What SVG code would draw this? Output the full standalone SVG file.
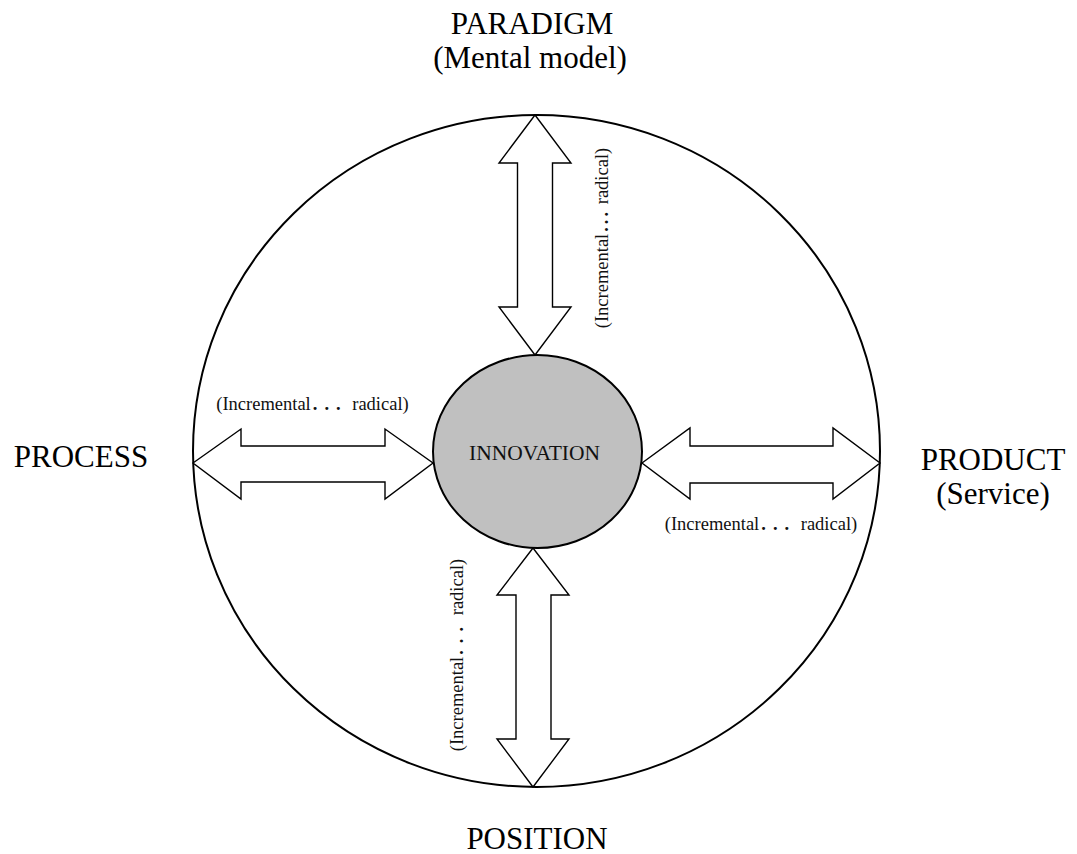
<svg xmlns="http://www.w3.org/2000/svg" width="1077" height="854" viewBox="0 0 1077 854">
  <style>
    .big { font-family: "Liberation Serif", "Times New Roman", serif; font-size: 31px; fill: #000; text-anchor: middle; }
    .core { font-family: "Liberation Serif", "Times New Roman", serif; font-size: 21.5px; fill: #111; text-anchor: middle; }
    .range { font-family: "Liberation Serif", "Times New Roman", serif; font-size: 18.5px; fill: #111; text-anchor: middle; }
    .dots { font-weight: bold; letter-spacing: 7px; }
    .arrow { fill: #fff; stroke: #000; stroke-width: 1.4; stroke-linejoin: miter; }
  </style>

  <rect width="1077" height="854" fill="#fff"/>

  <!-- outer boundary -->
  <g id="boundary">
    <ellipse cx="536.5" cy="451" rx="343.5" ry="336" fill="none" stroke="#000" stroke-width="2"/>
  </g>

  <!-- double-headed block arrows -->
  <g id="connectors">
    <!-- paradigm (top) -->
    <path class="arrow" d="M535,115 L571,163 L552.5,163 L552.5,307 L571,307 L535,355 L499,307 L517.5,307 L517.5,163 L499,163 Z"/>
    <!-- position (bottom) -->
    <path class="arrow" d="M533,548 L569,595 L551,595 L551,739 L569,739 L533,787 L497,739 L516,739 L516,595 L497,595 Z"/>
    <!-- process (left) -->
    <path class="arrow" d="M193,463 L241,429 L241,446 L385,446 L385,429 L433,463 L385,499 L385,482 L241,482 L241,499 Z"/>
    <!-- product (right) -->
    <path class="arrow" d="M642,463 L690,428 L690,446 L833,446 L833,428 L880,463 L833,499 L833,483 L690,483 L690,499 Z"/>
  </g>

  <g id="innovation">
    <ellipse cx="537.5" cy="451.5" rx="104.5" ry="96.5" fill="#c0c0c0" stroke="#000" stroke-width="2"/>
    <text class="core" x="534.5" y="460">INNOVATION</text>
  </g>

  <g id="paradigm">
    <text class="big" x="532" y="34">PARADIGM</text>
    <text class="big" x="530" y="68">(Mental model)</text>
  </g>

  <g id="process">
    <text class="big" x="81" y="467">PROCESS</text>
  </g>

  <g id="product">
    <text class="big" x="993" y="470">PRODUCT</text>
    <text class="big" x="993" y="504">(Service)</text>
  </g>

  <g id="position">
    <text class="big" x="537" y="849">POSITION</text>
  </g>

  <!-- range labels -->
  <g id="labels">
    <text class="range" x="312.5" y="410">(Incremental<tspan class="dots" dx="2">...</tspan> radical)</text>
    <text class="range" x="761" y="530">(Incremental<tspan class="dots" dx="2">...</tspan> radical)</text>
    <text class="range" transform="translate(608,238) rotate(-90)">(Incremental<tspan class="dots" dx="2" style="letter-spacing:3px">...</tspan> radical)</text>
    <text class="range" transform="translate(463,655) rotate(-90)">(Incremental<tspan class="dots" dx="2">...</tspan> radical)</text>
  </g>
</svg>
